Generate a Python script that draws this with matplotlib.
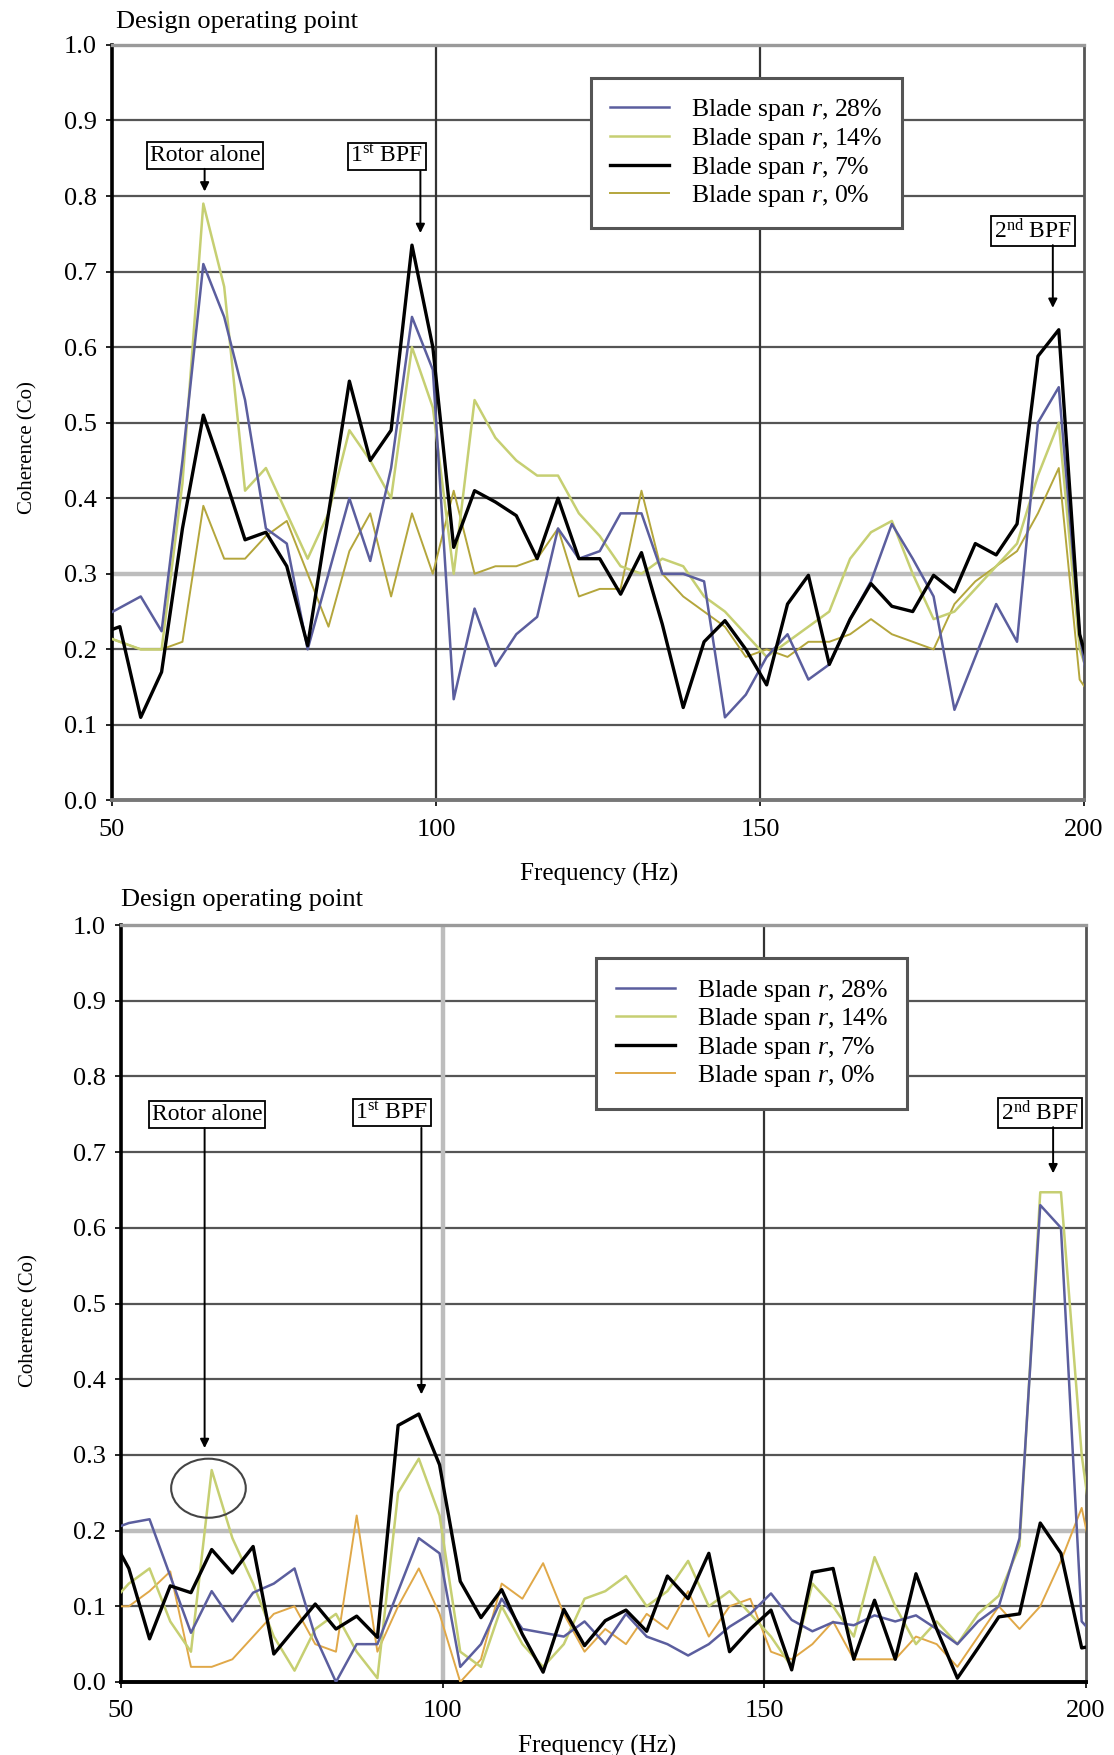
import matplotlib
matplotlib.use('Agg')
import matplotlib.pyplot as plt
from matplotlib.patches import Ellipse

plt.rcParams['font.family'] = ['Liberation Serif', 'DejaVu Serif']
plt.rcParams['mathtext.fontset'] = 'custom'
plt.rcParams['mathtext.rm'] = 'Liberation Serif'
plt.rcParams['mathtext.it'] = 'Liberation Serif:italic'

# frequency bins (Hz), ~3.22 Hz spacing, first and last lie just outside the axis
freq = [48.00, 51.22, 54.44, 57.66, 60.88, 64.10, 67.32, 70.54, 73.76, 76.98,
        80.20, 83.42, 86.64, 89.86, 93.08, 96.30, 99.52, 102.74, 105.96, 109.18,
        112.40, 115.62, 118.84, 122.06, 125.28, 128.50, 131.72, 134.94, 138.16, 141.38,
        144.60, 147.82, 151.04, 154.26, 157.48, 160.70, 163.92, 167.14, 170.36, 173.58,
        176.80, 180.02, 183.24, 186.46, 189.68, 192.90, 196.12, 199.34, 202.56]

labels = ['Blade span $r$, 28%', 'Blade span $r$, 14%',
          'Blade span $r$, 7%', 'Blade span $r$, 0%']

# top chart
top_28 = [0.24, 0.255, 0.27, 0.224, 0.45, 0.71, 0.64, 0.53, 0.36, 0.34,
          0.20, 0.30, 0.40, 0.317, 0.44, 0.64, 0.57, 0.134, 0.254, 0.178,
          0.22, 0.243, 0.36, 0.32, 0.33, 0.38, 0.38, 0.30, 0.30, 0.29,
          0.11, 0.14, 0.19, 0.22, 0.16, 0.18, 0.24, 0.29, 0.366, 0.32,
          0.27, 0.12, 0.19, 0.26, 0.21, 0.50, 0.547, 0.22, 0.05]
top_14 = [0.22, 0.21, 0.20, 0.20, 0.42, 0.79, 0.68, 0.41, 0.44, 0.38,
          0.32, 0.38, 0.49, 0.45, 0.40, 0.60, 0.52, 0.30, 0.53, 0.48,
          0.45, 0.43, 0.43, 0.38, 0.35, 0.31, 0.30, 0.32, 0.31, 0.27,
          0.25, 0.22, 0.19, 0.21, 0.23, 0.25, 0.32, 0.355, 0.37, 0.30,
          0.24, 0.25, 0.28, 0.31, 0.34, 0.43, 0.50, 0.20, 0.12]
top_7 = [0.22, 0.23, 0.11, 0.17, 0.36, 0.51, 0.43, 0.345, 0.355, 0.31,
         0.205, 0.38, 0.555, 0.45, 0.49, 0.735, 0.60, 0.335, 0.41, 0.395,
         0.377, 0.32, 0.40, 0.32, 0.32, 0.273, 0.328, 0.233, 0.123, 0.21,
         0.238, 0.20, 0.153, 0.26, 0.298, 0.18, 0.24, 0.287, 0.257, 0.25,
         0.298, 0.276, 0.34, 0.325, 0.366, 0.588, 0.623, 0.22, 0.12]
top_0 = [0.22, 0.21, 0.20, 0.20, 0.21, 0.39, 0.32, 0.32, 0.35, 0.37,
         0.30, 0.23, 0.33, 0.38, 0.27, 0.38, 0.30, 0.41, 0.30, 0.31,
         0.31, 0.32, 0.36, 0.27, 0.28, 0.28, 0.41, 0.30, 0.27, 0.25,
         0.23, 0.19, 0.20, 0.19, 0.21, 0.21, 0.22, 0.24, 0.22, 0.21,
         0.20, 0.26, 0.29, 0.31, 0.33, 0.38, 0.44, 0.16, 0.12]

# bottom chart
bot_28 = [0.20, 0.21, 0.215, 0.14, 0.065, 0.12, 0.08, 0.118, 0.13, 0.15,
          0.06, 0.0, 0.05, 0.05, 0.12, 0.19, 0.17, 0.02, 0.05, 0.11,
          0.07, 0.065, 0.06, 0.08, 0.05, 0.09, 0.06, 0.05, 0.035, 0.05,
          0.073, 0.09, 0.117, 0.082, 0.067, 0.079, 0.075, 0.088, 0.08, 0.088,
          0.07, 0.05, 0.08, 0.10, 0.19, 0.63, 0.60, 0.08, 0.05]
bot_14 = [0.10, 0.13, 0.15, 0.08, 0.04, 0.28, 0.19, 0.13, 0.06, 0.015,
          0.07, 0.09, 0.04, 0.005, 0.25, 0.295, 0.22, 0.04, 0.02, 0.10,
          0.05, 0.02, 0.05, 0.11, 0.12, 0.14, 0.10, 0.12, 0.16, 0.10,
          0.12, 0.09, 0.06, 0.02, 0.13, 0.10, 0.06, 0.165, 0.10, 0.05,
          0.08, 0.05, 0.09, 0.114, 0.18, 0.647, 0.647, 0.30, 0.10]
bot_7 = [0.20, 0.15, 0.057, 0.127, 0.118, 0.175, 0.144, 0.179, 0.037, 0.07,
         0.103, 0.07, 0.087, 0.059, 0.339, 0.354, 0.287, 0.133, 0.085, 0.122,
         0.063, 0.013, 0.096, 0.048, 0.081, 0.095, 0.067, 0.14, 0.11, 0.17,
         0.04, 0.07, 0.095, 0.016, 0.145, 0.15, 0.03, 0.108, 0.03, 0.143,
         0.07, 0.005, 0.045, 0.086, 0.09, 0.21, 0.17, 0.045, 0.05]
bot_0 = [0.10, 0.10, 0.12, 0.146, 0.02, 0.02, 0.03, 0.06, 0.09, 0.10,
         0.05, 0.04, 0.22, 0.04, 0.10, 0.15, 0.09, 0.0, 0.03, 0.13,
         0.11, 0.157, 0.09, 0.04, 0.07, 0.05, 0.09, 0.07, 0.12, 0.06,
         0.10, 0.11, 0.04, 0.03, 0.05, 0.08, 0.03, 0.03, 0.03, 0.06,
         0.05, 0.02, 0.06, 0.10, 0.07, 0.10, 0.16, 0.23, 0.10]

yticks = [0.0, 0.1, 0.2, 0.3, 0.4, 0.5, 0.6, 0.7, 0.8, 0.9, 1.0]
xticks = [50, 100, 150, 200]


def setup(ax, light_h, light_v, bottom_col):
    ax.set_xlim(50, 200)
    ax.set_ylim(0, 1)
    ax.set_xticks(xticks)
    ax.set_yticks(yticks)
    ax.set_yticklabels(['%.1f' % v for v in yticks])
    ax.tick_params(direction='out', length=4, width=1.2, labelsize=19, pad=7)
    ax.tick_params(axis='x', pad=9)
    for v in yticks[1:-1]:
        if v == light_h:
            ax.axhline(v, color='#bdbdbd', lw=3.2, zorder=1)
        else:
            ax.axhline(v, color='#555555', lw=1.6, zorder=1)
    for v in [100, 150]:
        if v == light_v:
            ax.axvline(v, color='#bdbdbd', lw=3.2, zorder=1)
        else:
            ax.axvline(v, color='#333333', lw=1.6, zorder=1)
    ax.spines['left'].set_color('black')
    ax.spines['left'].set_linewidth(2.6)
    ax.spines['bottom'].set_color(bottom_col)
    ax.spines['bottom'].set_linewidth(2.8)
    ax.spines['top'].set_color('#9a9a9a')
    ax.spines['top'].set_linewidth(2.4)
    ax.spines['right'].set_color('#555555')
    ax.spines['right'].set_linewidth(2.0)


def draw_series(ax, s28, s14, s7, s0, c0):
    ax.plot(freq, s0, color=c0, lw=1.4, zorder=3)
    ax.plot(freq, s14, color='#c6cf72', lw=1.8, zorder=3)
    ax.plot(freq, s28, color='#5b5e9e', lw=1.8, zorder=4)
    ax.plot(freq, s7, color='black', lw=2.4, zorder=5)
    h = ax.get_lines()[-4:]
    handles = [h[2], h[1], h[3], h[0]]
    leg = ax.legend(handles, labels, loc='upper left', bbox_to_anchor=(0.4927, 0.956),
                    borderaxespad=0, fontsize=18.5, labelspacing=0.1, handlelength=2.3,
                    handletextpad=0.85, borderpad=0.75, fancybox=False, framealpha=1)
    leg.get_frame().set_edgecolor('#555555')
    leg.get_frame().set_linewidth(2.2)
    leg.set_zorder(10)


def label_box(ax, x, y, s):
    ax.text(x, y, s, ha='center', va='center', fontsize=17, zorder=11,
            bbox=dict(boxstyle='square,pad=0.12', fc='white', ec='black', lw=1.3))


def arrow(ax, x, y0, y1):
    ax.annotate('', xy=(x, y1), xytext=(x, y0), zorder=11,
                arrowprops=dict(arrowstyle='-|>', color='black', lw=1.4,
                                mutation_scale=13, shrinkA=0, shrinkB=0))


fig = plt.figure(figsize=(11.14, 17.55), dpi=100)

ax1 = fig.add_axes([0.1005, 0.5439, 0.8725, 0.4305])
setup(ax1, 0.3, None, '#777777')
draw_series(ax1, top_28, top_14, top_7, top_0, '#b4a63c')
ax1.set_xlabel('Frequency (Hz)', fontsize=18)
ax1.xaxis.set_label_coords(0.501, -0.082)
ax1.set_ylabel('Coherence (Co)', fontsize=15)
ax1.yaxis.set_label_coords(-0.077, 0.467)
label_box(ax1, 64.35, 0.854, 'Rotor alone')
arrow(ax1, 64.3, 0.836, 0.806)
label_box(ax1, 92.4, 0.852, '1$^{\\rm st}$ BPF')
arrow(ax1, 97.6, 0.833, 0.751)
label_box(ax1, 192.1, 0.754, '2$^{\\rm nd}$ BPF')
arrow(ax1, 195.2, 0.735, 0.652)

ax2 = fig.add_axes([0.1086, 0.0416, 0.8662, 0.4313])
setup(ax2, 0.2, 100, 'black')
draw_series(ax2, bot_28, bot_14, bot_7, bot_0, '#e0a848')
ax2.set_xlabel('Frequency (Hz)', fontsize=18)
ax2.xaxis.set_label_coords(0.493, -0.070)
ax2.set_ylabel('Coherence (Co)', fontsize=15)
ax2.yaxis.set_label_coords(-0.086, 0.477)
label_box(ax2, 63.4, 0.750, 'Rotor alone')
arrow(ax2, 63.0, 0.732, 0.309)
label_box(ax2, 92.1, 0.752, '1$^{\\rm st}$ BPF')
arrow(ax2, 96.7, 0.732, 0.38)
label_box(ax2, 192.8, 0.752, '2$^{\\rm nd}$ BPF')
arrow(ax2, 194.9, 0.733, 0.672)
ax2.add_patch(Ellipse((63.6, 0.256), 11.6, 0.078, fill=False, ec='#444444', lw=1.5, zorder=6))

fig.text(116 / 1114, 1 - 22 / 1755, 'Design operating point', fontsize=19, va='center', ha='left')
fig.text(121 / 1114, 1 - 900 / 1755, 'Design operating point', fontsize=19, va='center', ha='left')

fig.savefig('out.png', dpi=100)
